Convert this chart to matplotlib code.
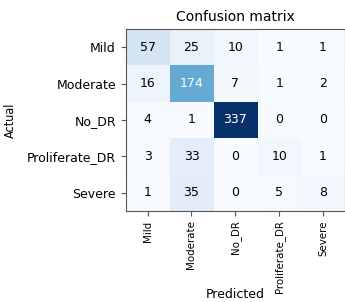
import numpy as np
import matplotlib
matplotlib.use('Agg')
import matplotlib.pyplot as plt

classes = ['Mild', 'Moderate', 'No_DR', 'Proliferate_DR', 'Severe']
cm = np.array([
    [57, 25, 10, 1, 1],
    [16, 174, 7, 1, 2],
    [4, 1, 337, 0, 0],
    [3, 33, 0, 10, 1],
    [1, 35, 0, 5, 8],
])

fig = plt.figure(figsize=(3.45, 3.02), dpi=100)
ax = fig.add_axes([0.3643, 0.3023, 0.6357, 0.6007])

ax.imshow(cm, interpolation='nearest', cmap='Blues', aspect='auto')
ax.set_title('Confusion matrix', fontsize=10)

ticks = np.arange(len(classes))
ax.set_xticks(ticks)
ax.set_xticklabels(classes, rotation=90, fontsize=8.2, fontstretch='condensed')
ax.set_yticks(ticks)
ax.set_yticklabels(classes, fontsize=9)

thresh = cm.max() / 2.
for i in range(cm.shape[0]):
    for j in range(cm.shape[1]):
        ax.text(j, i, cm[i, j], ha='center', va='center', fontsize=9,
                color='white' if cm[i, j] > thresh else 'black')

for s in ax.spines.values():
    s.set_color('#555555')
ax.tick_params(color='#555555')

ax.set_ylabel('Actual', fontsize=9, fontstretch='condensed')
ax.yaxis.set_label_coords(-0.496, 0.5)
ax.set_xlabel('Predicted', fontsize=9)
ax.xaxis.set_label_coords(0.5, -0.5)
ax.xaxis.label.set_va('bottom')

fig.savefig('out.png', dpi=100)
